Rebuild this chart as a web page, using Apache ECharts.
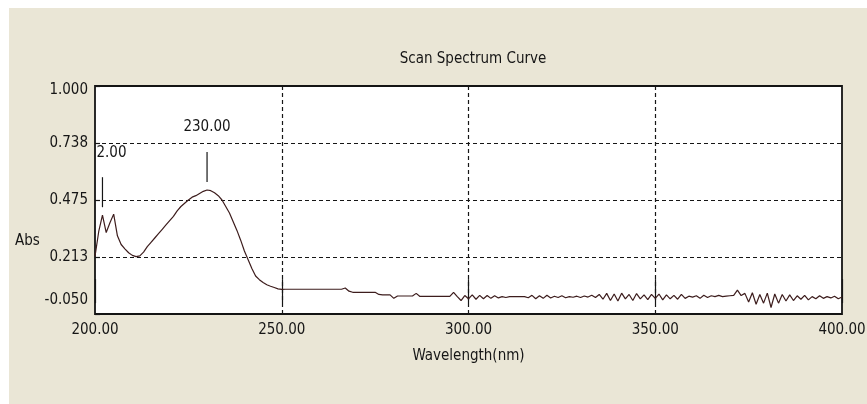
<!DOCTYPE html>
<html>
<head>
<meta charset="utf-8">
<title>Scan Spectrum Curve</title>
<script src="https://cdn.jsdelivr.net/npm/echarts@6/dist/echarts.min.js"></script>
<style>
  html, body { margin: 0; padding: 0; background: #ffffff; overflow: hidden; }
  #chart { width: 867px; height: 404px; }
</style>
</head>
<body>
<div id="chart"></div>
<script>
// Scan settings: one reading per nanometre from 200 nm to 400 nm
const START_NM = 200;
const STEP_NM = 1;

// Absorbance readings, 200 nm ... 400 nm
const absorbance = [
  0.215, 0.330, 0.405, 0.325, 0.370, 0.410, 0.310, 0.270, 0.250, 0.232,
  0.220, 0.214, 0.218, 0.235, 0.260, 0.280, 0.300, 0.320, 0.340, 0.360,
  0.380, 0.400, 0.425, 0.445, 0.460, 0.475, 0.488, 0.495, 0.505, 0.515,
  0.521, 0.518, 0.508, 0.495, 0.475, 0.445, 0.415, 0.375, 0.335, 0.290,
  0.240, 0.200, 0.160, 0.125, 0.108, 0.095, 0.085, 0.078, 0.072, 0.066,
  0.063, 0.064, 0.064, 0.064, 0.064, 0.064, 0.064, 0.064, 0.064, 0.064,
  0.064, 0.064, 0.064, 0.064, 0.064, 0.064, 0.064, 0.070, 0.055, 0.050,
  0.050, 0.050, 0.050, 0.050, 0.050, 0.050, 0.040, 0.038, 0.038, 0.038,
  0.022, 0.033, 0.033, 0.033, 0.033, 0.033, 0.045, 0.031, 0.031, 0.031,
  0.031, 0.031, 0.031, 0.031, 0.031, 0.031, 0.050, 0.030, 0.012, 0.035,
  0.020, 0.038, 0.018, 0.036, 0.020, 0.035, 0.022, 0.034, 0.024, 0.030,
  0.026, 0.030, 0.030, 0.030, 0.030, 0.030, 0.025, 0.036, 0.020, 0.034,
  0.022, 0.036, 0.024, 0.032, 0.026, 0.034, 0.025, 0.030, 0.027, 0.032,
  0.026, 0.033, 0.028, 0.036, 0.026, 0.040, 0.018, 0.045, 0.012, 0.042,
  0.010, 0.046, 0.020, 0.040, 0.012, 0.044, 0.020, 0.038, 0.016, 0.040,
  0.022, 0.042, 0.015, 0.038, 0.020, 0.036, 0.018, 0.040, 0.022, 0.032,
  0.028, 0.034, 0.022, 0.036, 0.026, 0.034, 0.030, 0.036, 0.030, 0.032,
  0.034, 0.036, 0.060, 0.035, 0.045, 0.005, 0.048, -0.005, 0.040, 0.000,
  0.046, -0.020, 0.042, 0.000, 0.040, 0.010, 0.038, 0.012, 0.034, 0.018,
  0.036, 0.015, 0.030, 0.020, 0.034, 0.022, 0.030, 0.024, 0.032, 0.020,
  0.028
];

// Detected peaks: wavelength and the text printed above each one
const peakWavelengths = [202, 230];
const peakLabels = ['2.00', '230.00'];

// Axis ranges and tick labels
const xTickLabels = ['200.00', '250.00', '300.00', '350.00', '400.00'];
const yTickLabels = ['-0.050', '0.213', '0.475', '0.738', '1.000'];
const X_MIN = 200, X_MAX = 400, X_STEP = 50;
const Y_MIN = -0.05, Y_MAX = 1.0, Y_STEP = 0.2625;

const FONT = "'DejaVu Sans Condensed', 'Liberation Sans Narrow', sans-serif";
const FS = 15;
const INK = '#161616';
const PANEL = '#EAE6D6';

const spectrum = absorbance.map((v, i) => [START_NM + i * STEP_NM, v]);

const peakMarks = [];
peakWavelengths.forEach((wl, k) => {
  const v = absorbance[Math.round((wl - START_NM) / STEP_NM)];
  // short vertical marker above the peak
  peakMarks.push({
    coord: [wl, v],
    symbol: 'rect',
    symbolSize: [1.2, 30],
    symbolOffset: [0, -23],
    itemStyle: { color: INK },
    label: { show: false }
  });
  // peak wavelength text
  peakMarks.push({
    coord: [wl, v],
    symbol: 'rect',
    symbolSize: 0,
    label: {
      show: true,
      position: 'inside',
      formatter: peakLabels[k],
      align: k === 0 ? 'left' : 'center',
      offset: k === 0 ? [-6, -62] : [0, -63],
      color: INK,
      fontFamily: FONT,
      fontSize: FS
    }
  });
});

const gridDash = { color: INK, width: 1.2, type: [4, 3] };

const chart = echarts.init(document.getElementById('chart'), null, { renderer: 'canvas' });

chart.setOption({
  animation: false,
  backgroundColor: '#ffffff',
  graphic: [
    {
      type: 'rect',
      z: -10,
      silent: true,
      shape: { x: 9, y: 8, width: 867 - 9, height: 404 - 8 },
      style: { fill: PANEL }
    },
    {
      type: 'text',
      left: 15,
      top: 234,
      silent: true,
      style: { text: 'Abs', fill: INK, font: FS + 'px ' + FONT }
    }
  ],
  title: {
    text: 'Scan Spectrum Curve',
    left: 468,
    top: 47,
    textAlign: 'center',
    textStyle: { color: INK, fontFamily: FONT, fontSize: FS, fontWeight: 'normal' }
  },
  grid: {
    left: 95,
    top: 86,
    right: 25,
    bottom: 90,
    show: true,
    backgroundColor: '#ffffff',
    borderColor: '#141414',
    borderWidth: 1.8,
    containLabel: false,
    outerBoundsMode: 'none'
  },
  xAxis: {
    type: 'value',
    min: X_MIN,
    max: X_MAX,
    interval: X_STEP,
    name: 'Wavelength(nm)',
    nameLocation: 'middle',
    nameGap: 35,
    nameTextStyle: { color: INK, fontFamily: FONT, fontSize: FS },
    axisLine: { show: false },
    axisTick: { show: true, inside: true, length: 24, lineStyle: { color: INK, width: 1.2 } },
    axisLabel: {
      color: INK,
      fontFamily: FONT,
      fontSize: FS,
      margin: 9,
      formatter: (val, idx) => xTickLabels[idx]
    },
    splitLine: { show: true, showMinLine: false, showMaxLine: false, lineStyle: gridDash }
  },
  yAxis: {
    type: 'value',
    min: Y_MIN,
    max: Y_MAX,
    interval: Y_STEP,
    axisLine: { show: false },
    axisTick: { show: true, inside: true, length: 5, lineStyle: { color: INK, width: 1.2 } },
    axisLabel: {
      color: INK,
      fontFamily: FONT,
      fontSize: FS,
      margin: 7,
      formatter: (val, idx) => {
        const t = yTickLabels[idx];
        if (idx === 0) return '{lo|' + t + '}';
        if (idx === yTickLabels.length - 1) return '{hi|' + t + '}';
        return t;
      },
      rich: {
        lo: { fontFamily: FONT, fontSize: FS, color: INK, padding: [0, 0, 28, 0] },
        hi: { fontFamily: FONT, fontSize: FS, color: INK, padding: [8, 0, 0, 0] }
      }
    },
    splitLine: { show: true, showMinLine: false, showMaxLine: false, lineStyle: gridDash }
  },
  series: [
    {
      type: 'line',
      data: spectrum,
      showSymbol: false,
      clip: true,
      lineStyle: { color: '#3d1d1d', width: 1.2 },
      markPoint: { silent: true, data: peakMarks }
    }
  ]
});
</script>
</body>
</html>
